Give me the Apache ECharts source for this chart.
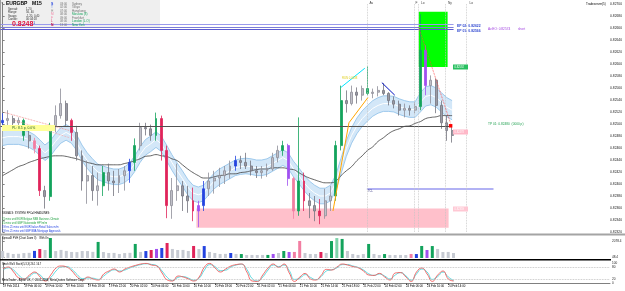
<html>
<head>
<meta charset="utf-8">
<script src="https://cdn.jsdelivr.net/npm/echarts@6.0.0/dist/echarts.min.js"></script>
</head>
<body style="margin:0;background:#fff">
<div id="chartmain" style="width:625px;height:291px"></div>
<script type="text/javascript">
// EURGBP M15 screen, read back as hourly bars (index 0 = 19 Feb 02:00)
var timeLabels = ['19 Feb 2014', '19 Feb 06:00', '19 Feb 10:00', '19 Feb 14:00', '19 Feb 18:00', '19 Feb 22:00',
    '20 Feb 02:00', '20 Feb 06:00', '20 Feb 10:00', '20 Feb 14:00', '20 Feb 18:00', '20 Feb 22:00',
    '21 Feb 02:00', '21 Feb 06:00', '21 Feb 10:00', '21 Feb 14:00', '21 Feb 18:00', '21 Feb 22:00',
    '24 Feb 02:00', '24 Feb 06:00', '24 Feb 10:00', '24 Feb 14:00'];
var priceTicks = [0.8232, 0.8234, 0.8236, 0.8238, 0.8240, 0.8242, 0.8244, 0.8246, 0.8248, 0.8250,
    0.8252, 0.8254, 0.8256, 0.8258, 0.8260, 0.8262, 0.8264, 0.8266, 0.8268, 0.8270];
var volTicks = [48.4, 2078.4];
var stochTicks = [0, 20, 80, 100];

var firstOpen = 0.82502;
var closes = [0.82506, 0.82509, 0.82502, 0.82506, 0.82481, 0.82472, 0.82459, 0.82389, 0.82379, 0.82497,
    0.82514, 0.82534, 0.82506, 0.82486, 0.82447, 0.82405, 0.82414, 0.82389, 0.82397, 0.82419,
    0.82405, 0.82402, 0.82414, 0.82422, 0.82436, 0.82464, 0.82494, 0.82492, 0.82481, 0.82509,
    0.82456, 0.82364, 0.82389, 0.82397, 0.82380, 0.82372, 0.82355, 0.82364, 0.82392, 0.82405,
    0.82410, 0.82414, 0.82422, 0.82430, 0.82439, 0.82436, 0.82430, 0.82422, 0.82419, 0.82422,
    0.82425, 0.82444, 0.82456, 0.82464, 0.82409, 0.82355, 0.82405, 0.82372, 0.82364, 0.82355,
    0.82347, 0.82372, 0.82380, 0.82464, 0.82539, 0.82534, 0.82553, 0.82548, 0.82559, 0.82551,
    0.82553, 0.82556, 0.82551, 0.82539, 0.82533, 0.82523, 0.82526, 0.82523, 0.82529, 0.82623,
    0.82564, 0.82573, 0.82531, 0.82502, 0.82489, 0.82481];
var highs = [0.82518, 0.82523, 0.82514, 0.82511, 0.82509, 0.82489, 0.82477, 0.82464, 0.82397, 0.82502,
    0.82531, 0.82559, 0.82539, 0.82509, 0.82497, 0.82456, 0.82439, 0.82430, 0.82419, 0.82430,
    0.82434, 0.82422, 0.82425, 0.82430, 0.82442, 0.82476, 0.82502, 0.82502, 0.82499, 0.82519,
    0.82514, 0.82464, 0.82410, 0.82434, 0.82405, 0.82397, 0.82394, 0.82372, 0.82405, 0.82419,
    0.82422, 0.82427, 0.82430, 0.82439, 0.82447, 0.82447, 0.82452, 0.82439, 0.82430, 0.82430,
    0.82434, 0.82452, 0.82464, 0.82472, 0.82467, 0.82412, 0.82511, 0.82419, 0.82385, 0.82380,
    0.82375, 0.82392, 0.82397, 0.82472, 0.82564, 0.82556, 0.82564, 0.82561, 0.82564, 0.82596,
    0.82559, 0.82563, 0.82568, 0.82553, 0.82546, 0.82539, 0.82534, 0.82531, 0.82536, 0.82683,
    0.82631, 0.82581, 0.82576, 0.82539, 0.82514, 0.82497];
var lows = [0.82494, 0.82497, 0.82494, 0.82492, 0.82472, 0.82459, 0.82451, 0.82380, 0.82359, 0.82372,
    0.82486, 0.82509, 0.82497, 0.82472, 0.82439, 0.82389, 0.82367, 0.82372, 0.82364, 0.82380,
    0.82389, 0.82380, 0.82385, 0.82389, 0.82402, 0.82422, 0.82456, 0.82481, 0.82472, 0.82472,
    0.82439, 0.82343, 0.82342, 0.82372, 0.82355, 0.82352, 0.82338, 0.82328, 0.82355, 0.82380,
    0.82384, 0.82395, 0.82400, 0.82409, 0.82422, 0.82425, 0.82425, 0.82414, 0.82410, 0.82409,
    0.82412, 0.82422, 0.82436, 0.82447, 0.82397, 0.82342, 0.82347, 0.82355, 0.82343, 0.82338,
    0.82333, 0.82342, 0.82355, 0.82372, 0.82456, 0.82519, 0.82531, 0.82534, 0.82539, 0.82548,
    0.82543, 0.82546, 0.82548, 0.82531, 0.82526, 0.82514, 0.82511, 0.82514, 0.82518, 0.82523,
    0.82548, 0.82534, 0.82518, 0.82492, 0.82472, 0.82469];

// long moving average (dark line)
var maLong = [0.82414, 0.82419, 0.82424, 0.82429, 0.82432, 0.82436, 0.82439, 0.82442, 0.82444, 0.82446,
    0.82447, 0.82447, 0.82446, 0.82444, 0.82442, 0.82439, 0.82436, 0.82434, 0.82432, 0.82432,
    0.82432, 0.82432, 0.82432, 0.82434, 0.82436, 0.82439, 0.82442, 0.82446, 0.82447, 0.82449,
    0.82447, 0.82446, 0.82442, 0.82439, 0.82432, 0.82425, 0.82419, 0.82414, 0.82410, 0.82410,
    0.82412, 0.82414, 0.82415, 0.82417, 0.82417, 0.82419, 0.82420, 0.82422, 0.82424, 0.82425,
    0.82425, 0.82427, 0.82427, 0.82427, 0.82425, 0.82424, 0.82419, 0.82414, 0.82410, 0.82407,
    0.82404, 0.82402, 0.82402, 0.82405, 0.82414, 0.82422, 0.82429, 0.82439, 0.82447, 0.82456,
    0.82462, 0.82471, 0.82477, 0.82484, 0.82489, 0.82492, 0.82496, 0.82497, 0.82501, 0.82504,
    0.82509, 0.82511, 0.82512, 0.82514, 0.82514, 0.82514];

// blue channel
var bandUpper = [0.82490, 0.82492, 0.82492, 0.82492, 0.82490, 0.82487, 0.82482, 0.82474, 0.82465, 0.82472,
    0.82484, 0.82494, 0.82499, 0.82494, 0.82482, 0.82465, 0.82452, 0.82442, 0.82433, 0.82430,
    0.82427, 0.82425, 0.82425, 0.82428, 0.82435, 0.82447, 0.82462, 0.82474, 0.82480, 0.82487,
    0.82480, 0.82465, 0.82449, 0.82435, 0.82422, 0.82408, 0.82398, 0.82395, 0.82398, 0.82408,
    0.82418, 0.82425, 0.82430, 0.82435, 0.82440, 0.82442, 0.82443, 0.82442, 0.82440, 0.82440,
    0.82442, 0.82447, 0.82452, 0.82457, 0.82452, 0.82438, 0.82427, 0.82415, 0.82405, 0.82398,
    0.82393, 0.82393, 0.82398, 0.82415, 0.82443, 0.82472, 0.82494, 0.82510, 0.82522, 0.82531,
    0.82539, 0.82544, 0.82547, 0.82547, 0.82546, 0.82542, 0.82539, 0.82537, 0.82537, 0.82552,
    0.82562, 0.82564, 0.82560, 0.82552, 0.82544, 0.82539];
var bandLower = [0.82464, 0.82466, 0.82466, 0.82466, 0.82464, 0.82461, 0.82456, 0.82448, 0.82439, 0.82446,
    0.82458, 0.82468, 0.82473, 0.82468, 0.82456, 0.82439, 0.82426, 0.82416, 0.82407, 0.82404,
    0.82401, 0.82399, 0.82399, 0.82402, 0.82409, 0.82421, 0.82436, 0.82448, 0.82454, 0.82461,
    0.82454, 0.82439, 0.82423, 0.82409, 0.82396, 0.82382, 0.82372, 0.82369, 0.82372, 0.82382,
    0.82392, 0.82399, 0.82404, 0.82409, 0.82414, 0.82416, 0.82417, 0.82416, 0.82414, 0.82414,
    0.82416, 0.82421, 0.82426, 0.82431, 0.82426, 0.82412, 0.82401, 0.82389, 0.82379, 0.82372,
    0.82367, 0.82367, 0.82372, 0.82389, 0.82417, 0.82446, 0.82468, 0.82484, 0.82496, 0.82505,
    0.82513, 0.82518, 0.82521, 0.82521, 0.82520, 0.82516, 0.82513, 0.82511, 0.82511, 0.82520,
    0.82530, 0.82532, 0.82528, 0.82520, 0.82512, 0.82507];

var volumes = [870, 640, 500, 520, 610, 640, 880, 1110, 990, 2480,
    860, 1000, 880, 750, 730, 870, 860, 760, 1990, 740,
    620, 630, 500, 610, 640, 1740, 750, 860, 990, 1120,
    1240, 1860, 1120, 990, 1000, 870, 1490, 1110, 1480, 750,
    620, 500, 510, 620, 500, 490, 370, 380, 370, 380,
    380, 500, 620, 870, 740, 750, 2110, 620, 500, 490,
    740, 620, 2100, 2470, 2360, 870, 500, 380, 490, 1740,
    500, 370, 490, 380, 370, 380, 370, 500, 490, 1490,
    990, 1480, 1120, 740, 750, 620];

var stochMain = [70, 80, 55, 25, 20, 40, 55, 30, 10, 40, 75, 85, 80, 60, 30, 15, 30, 20, 15, 45,
    60, 70, 55, 70, 80, 88, 95, 98, 90, 85, 50, 15, 10, 35, 30, 20, 10, 30, 80, 98,
    75, 55, 70, 85, 92, 95, 55, 10, 8, 40, 75, 95, 78, 95, 50, 8, 30, 48, 20, 15,
    38, 68, 65, 80, 95, 90, 82, 76, 60, 40, 38, 48, 30, 15, 50, 52, 30, 8, 55, 75,
    45, 8, 40, 60, 20, 10];
var stochSignal = [65, 76, 65, 38, 22, 32, 50, 40, 18, 28, 60, 80, 82, 68, 42, 22, 25, 24, 18, 35,
    55, 66, 60, 65, 76, 85, 92, 96, 93, 87, 60, 28, 12, 28, 32, 24, 14, 24, 65, 92,
    82, 62, 64, 80, 90, 94, 68, 22, 10, 30, 65, 90, 82, 90, 62, 18, 24, 42, 28, 17,
    32, 60, 66, 76, 92, 92, 85, 78, 65, 46, 38, 45, 35, 20, 40, 52, 36, 14, 45, 70,
    55, 18, 32, 55, 30, 12];

// drawn objects (price levels, zones, trend lines) in bar-index / price units
var levels = { ep02: 0.82667, avgEntry: 0.82661, ep01: 0.82658, tp01: 0.82504, plLine: 0.82497, bid: 0.82481,
    faintHigh: 0.82626, faintLow: 0.82385, tcl: 0.82392 };
var sessionX = [68.88, 77.93, 78.6, 83.78, 87.74];
var pinkZone = [[36.64, 0.82359], [84.34, 0.82327]];
var greenZone = [[78.69, 0.82687], [84.15, 0.82595]];
var orangeLine = [[62.47, 0.82355], [65.49, 0.82502], [69.07, 0.82544]];
var cyanLine = [[63.98, 0.82561], [68.5, 0.82593]];
var blueLine = [[71.71, 0.82569], [74.16, 0.82548]];
var redDotted = [[78.69, 0.82661], [84.72, 0.82501]];
var leftDotted1 = [[0.44, 0.82519], [12.7, 0.82489]];
var leftDotted2 = [[2.33, 0.82506], [12.7, 0.82477]];

// colours of the painted bars (index -> colour)
var RED = '#e0245a', PINK = '#f27ea2', GREEN = '#13a35c', LGREEN = '#7fd3aa', BLUE = '#2444e0', PURPLE = '#a050f0';
var candleColors = { 0: BLUE, 4: GREEN, 6: PINK, 7: RED, 9: GREEN, 13: RED, 19: GREEN, 24: BLUE, 25: GREEN, 29: GREEN,
    30: RED, 31: RED, 36: RED, 37: PURPLE, 38: BLUE, 44: BLUE, 53: GREEN, 54: PURPLE, 55: PINK, 56: GREEN,
    57: RED, 60: RED, 63: GREEN, 64: GREEN, 69: GREEN, 79: GREEN, 80: PURPLE };
var volColors = { 6: BLUE, 7: RED, 9: GREEN, 18: GREEN, 25: GREEN, 27: BLUE, 28: RED, 29: PURPLE, 30: BLUE, 31: RED,
    36: RED, 38: BLUE, 43: BLUE, 45: GREEN, 50: GREEN, 51: PURPLE, 53: GREEN, 54: PURPLE, 55: PINK, 56: PINK,
    60: RED, 62: GREEN, 63: LGREEN, 64: GREEN, 69: GREEN, 72: GREEN, 77: PINK, 78: BLUE, 79: GREEN, 80: PURPLE, 81: GREEN };

window.onload = function () {
    var fontName = 'Liberation Sans';
    var opens = [firstOpen].concat(closes.slice(0, -1));
    var candleData = closes.map(function (c, i) {
        var item = { value: [i, opens[i], c, lows[i], highs[i]] };
        var col = candleColors[i];
        if (col) {
            item.itemStyle = { color: col, color0: col, borderColor: col, borderColor0: col };
        }
        return item;
    });
    var volData = volumes.map(function (v, i) {
        return { value: [i, v], itemStyle: { color: volColors[i] || '#c6cad2' } };
    });
    var pairs = function (arr) { return arr.map(function (v, i) { return [i, v]; }); };
    var seg = function (a, b, style) { return [{ coord: a, lineStyle: style }, { coord: b }]; };
    var labelPos = timeLabels.map(function (s, k) { return k * 4; });

    // band polygon: upper edge left->right, lower edge right->left
    var renderBand = function (params, api) {
        if (params.dataIndex !== 0) return;
        var pts = [];
        for (var i = 0; i < bandUpper.length; i++) pts.push(api.coord([i, bandUpper[i]]));
        for (var j = bandLower.length - 1; j >= 0; j--) pts.push(api.coord([j, bandLower[j]]));
        return {
            type: 'polygon', shape: { points: pts },
            style: { fill: '#d3e7f8', stroke: null }
        };
    };

    var T = function (x, y, s, fill, size, weight) {
        return {
            type: 'text', x: x, y: y, z: 100, silent: true,
            style: {
                text: s, fill: fill || '#000', fontSize: size || 3.2, fontFamily: fontName,
                fontWeight: weight || 'normal', verticalAlign: 'middle', textVerticalAlign: 'middle'
            }
        };
    };
    var R = function (x, y, w, h, fill, z) {
        return { type: 'rect', z: z == null ? 100 : z, silent: true, shape: { x: x, y: y, width: w, height: h }, style: { fill: fill } };
    };

    var graphics = [
        R(0, 0, 160, 28, '#efefef', 0),
        R(0, 0, 0.8, 283, '#8a8a8a', 100),
        R(0, 233.5, 625, 2, '#a4a4a4', 100),
        R(0, 259, 611, 1.5, '#000', 100),
        T(1, 3.5, '\u25BC', '#000', 2.6),
        T(6, 4, 'EURGBP', '#000', 5, 'bold'),
        T(32, 4, 'M15', '#000', 5, 'bold'),
        T(8, 9, 'Spread:', '#333', 2.8), T(26, 9, '1.20', '#333', 2.8),
        T(8, 12.5, 'Range:', '#333', 2.8), T(26, 12.5, '56, 40', '#333', 2.8),
        T(8, 16, 'Swaps:', '#333', 2.8), T(26, 16, '-1.20, 0.40', '#333', 2.8),
        T(8, 19.5, 'Candle:', '#333', 2.8), T(26, 19.5, '00:04:18', '#333', 2.8),
        T(12, 24.5, '0.8248', '#e0103c', 7, 'bold'),
        T(33, 23, '1', '#3050c0', 4),
        T(51, 4, 'S', BLUE, 3.4, 'bold'), T(51, 7.5, 'T', '#5070e0', 3.2), T(51, 11, 'H', '#909090', 3.2),
        T(51, 14.5, 'M', PINK, 3.2), T(51, 18, 'F', PINK, 3.2), T(51, 21.5, 'L', RED, 3.2), T(51, 25, 'N', '#c00040', 3.4, 'bold'),
        T(60, 4, '03:00', '#707070', 2.8), T(72, 4, 'Sydney', '#707070', 3),
        T(60, 7.5, '02:00', '#707070', 2.8), T(72, 7.5, 'Tokyo', '#707070', 3),
        T(60, 11, '07:00', '#707070', 2.8), T(72, 11, 'Hongkong', '#707070', 3),
        T(60, 14.5, '08:00', '#707070', 2.8), T(72, 14.5, 'Moscow (8)', GREEN, 3),
        T(60, 18, '09:00', '#707070', 2.8), T(72, 18, 'Frankfurt', '#707070', 3),
        T(60, 21.5, '08:00', '#707070', 2.8), T(72, 21.5, 'London (L.O)', GREEN, 3),
        T(60, 25, '13:00', '#707070', 2.8), T(72, 25, 'New York', GREEN, 3),
        T(586, 4, 'Tradeserver(5)', '#000', 3),
        T(369.5, 3.5, 'Av', '#404040', 3.2), T(415.5, 3.5, 'F', '#404040', 3.2), T(421, 3.5, 'Lo', '#404040', 3.2),
        T(448, 3.5, 'Ny', '#404040', 3.2), T(469.5, 3.5, 'Lo', '#404040', 3.2),
        T(457, 26, 'EP 02: 0.82622', '#3048d0', 3.4, 'bold'),
        T(457, 31.5, 'EP 01: 0.82566', '#3048d0', 3.4, 'bold'),
        T(488, 29, 'Av.EO: 0.82574', '#a040e0', 3.2), T(518, 29, 'short', '#a040e0', 3.2),
        T(488, 124, 'TP 01: 0.82480  (0000 p)', '#20a050', 3.2),
        R(2, 125, 53, 6, '#ffff99'), T(12, 128, 'PL: 8.5 p, 0.0%', '#206020', 3.4),
        R(453, 64.5, 15, 5, '#28c060'), T(454.5, 67, '0.82592', '#fff', 2.6),
        R(453, 129.5, 15, 5, '#ffb8c8'), T(454.5, 132, '0.82478', '#fff', 2.6),
        R(453, 206.5, 15, 5, '#ffc8d4'), T(454.5, 209, '0.82359', '#fff', 2.6),
        T(368, 191.5, 'TCL', '#303080', 2.6),
        T(342, 78, 'RUN 0.0038', '#e0d020', 2.8),
        T(2, 213.5, 'SIGNALS: SYSTEM: FFCal HEADLINES:', '#000', 2.6),
        T(2, 219, '21 mins until EUR Belgian NBB Business Climate', '#20a040', 2.6),
        T(2, 223, '21 mins until GBP Nationwide HPI m/m', '#20a040', 2.6),
        T(2, 227, '19 hrs 21 mins until EUR Italian Retail Sales m/m', '#2040e0', 2.6),
        T(2, 231, '19 hrs 21 mins until GBP BBA Mortgage Approvals', '#2040e0', 2.6),
        T(2, 238.5, 'SpreadX FVH (Chart Zoom 3)    With On', '#000', 2.6),
        T(2, 264.5, 'Stoch WoS Stoch(5,3,3) 26.1 16.7', '#000', 2.6),
        T(2, 280, 'MetaTrader - Alpari UK, \u00A9 2001-2014, MetaQuotes Software Corp.', '#000', 2.8)
    ];

    var hiddenX = function (g) {
        return { type: 'value', gridIndex: g, min: -0.5, max: 114.5, show: false };
    };

    option = {
        animation: false,
        textStyle: { fontFamily: fontName },
        graphic: graphics,
        grid: [
            { left: 0, right: 15, top: 4, height: 228 },
            { left: 0, right: 15, top: 237, height: 21 },
            { left: 0, right: 15, top: 263, height: 20 }
        ],
        xAxis: [hiddenX(0), hiddenX(1), {
            type: 'value', gridIndex: 2, min: -0.5, max: 114.5,
            axisLine: { show: true, lineStyle: { color: '#808080' } },
            axisTick: { show: true, customValues: labelPos, length: 2, lineStyle: { color: '#606060' } },
            axisLabel: {
                customValues: labelPos, fontSize: 2.9, color: '#000', margin: 2, align: 'left',
                formatter: function (v) { return timeLabels[Math.round(v / 4)]; }
            },
            splitLine: { show: false }
        }],
        yAxis: [{
            type: 'value', gridIndex: 0, position: 'right', min: 0.8232, max: 0.8270,
            axisLine: { show: true, lineStyle: { color: '#808080' } },
            axisTick: { show: true, customValues: priceTicks, length: 2, lineStyle: { color: '#808080' } },
            axisLabel: { customValues: priceTicks, fontSize: 3.3, color: '#202020', margin: 2,
                formatter: function (v) { return v.toFixed(5); } },
            splitLine: { show: false }
        }, {
            type: 'value', gridIndex: 1, position: 'right', min: 0, max: 2600,
            axisLine: { show: true, lineStyle: { color: '#808080' } },
            axisTick: { show: true, customValues: volTicks, length: 2 },
            axisLabel: { customValues: volTicks, fontSize: 3.1, color: '#202020', margin: 2,
                formatter: function (v) { return v.toFixed(1); } },
            splitLine: { show: false }
        }, {
            type: 'value', gridIndex: 2, position: 'right', min: 0, max: 100,
            axisLine: { show: true, lineStyle: { color: '#808080' } },
            axisTick: { show: true, customValues: stochTicks, length: 2 },
            axisLabel: { customValues: stochTicks, fontSize: 3.1, color: '#202020', margin: 2 },
            splitLine: { show: false }
        }],
        series: [{
            name: 'kcFill', type: 'custom', xAxisIndex: 0, yAxisIndex: 0, z: 1, clip: true,
            renderItem: renderBand,
            data: bandUpper.map(function (v, i) { return [i, v, bandLower[i]]; }),
            encode: { x: 0, y: [1, 2] },
            markArea: {
                silent: true,
                data: [
                    [{ coord: pinkZone[0], itemStyle: { color: '#ffc0cb' } }, { coord: pinkZone[1] }],
                    [{ coord: greenZone[0], itemStyle: { color: '#00ff00' } }, { coord: greenZone[1] }]
                ]
            }
        }, {
            name: 'kcUp', type: 'line', xAxisIndex: 0, yAxisIndex: 0, symbol: 'none', z: 1,
            data: pairs(bandUpper), lineStyle: { color: '#8cbfe9', width: 0.8 }
        }, {
            name: 'kcLow', type: 'line', xAxisIndex: 0, yAxisIndex: 0, symbol: 'none', z: 1,
            data: pairs(bandLower), lineStyle: { color: '#8cbfe9', width: 0.8 }
        }, {
            name: 'kcMid', type: 'line', xAxisIndex: 0, yAxisIndex: 0, symbol: 'none', z: 1,
            data: bandUpper.map(function (v, i) { return [i, (v + bandLower[i]) / 2]; }),
            lineStyle: { color: '#ffffff', width: 1 }
        }, {
            name: 'MA', type: 'line', xAxisIndex: 0, yAxisIndex: 0, smooth: true, symbol: 'none', z: 2,
            data: pairs(maLong), lineStyle: { color: '#3c3c3c', width: 0.8 }
        }, {
            name: 'EURGBP', type: 'candlestick', xAxisIndex: 0, yAxisIndex: 0, z: 3, barWidth: 2.4,
            data: candleData,
            itemStyle: { color: '#c0c0c8', color0: '#9c9ca6', borderColor: '#8e8e98', borderColor0: '#74747e', borderWidth: 0.8 },
            markLine: {
                silent: true, symbol: ['none', 'none'], label: { show: false },
                data: [
                    { yAxis: levels.faintHigh, lineStyle: { color: '#eeeed6', width: 1, type: 'solid' } },
                    { yAxis: levels.faintLow, lineStyle: { color: '#eeeed6', width: 1, type: 'solid' } },
                    { yAxis: levels.tp01, lineStyle: { color: '#5cc878', width: 1, type: 'solid' } },
                    seg([-0.5, levels.plLine], [84.72, levels.plLine], { color: '#505050', width: 1, type: 'solid' }),
                    seg([-0.5, levels.ep02], [85.28, levels.ep02], { color: '#9a9aec', width: 1, type: 'solid' }),
                    seg([-0.5, levels.avgEntry], [85.28, levels.avgEntry], { color: '#7c7cd8', width: 1, type: 'solid' }),
                    seg([-0.5, levels.ep01], [85.28, levels.ep01], { color: '#5a5ad0', width: 1, type: 'solid' }),
                    seg([68.88, levels.tcl], [92.83, levels.tcl], { color: '#9898f0', width: 1.5, type: 'solid' })
                ].concat(sessionX.map(function (x) {
                    return { xAxis: x, lineStyle: { color: '#c4c4c4', width: 0.8, type: 'dotted' } };
                })).concat([
                    seg(orangeLine[0], orangeLine[1], { color: '#ffa500', width: 1, type: 'solid' }),
                    seg(orangeLine[1], orangeLine[2], { color: '#ffa500', width: 1, type: 'solid' }),
                    seg(cyanLine[0], cyanLine[1], { color: '#00e5ff', width: 1, type: 'solid' }),
                    seg(blueLine[0], blueLine[1], { color: '#0010c0', width: 1, type: 'solid' }),
                    seg(redDotted[0], redDotted[1], { color: '#ff4040', width: 0.8, type: 'dotted' }),
                    seg(leftDotted1[0], leftDotted1[1], { color: '#f08080', width: 0.8, type: 'dotted' }),
                    seg(leftDotted2[0], leftDotted2[1], { color: '#f4a0a0', width: 0.8, type: 'dotted' }),
                    {
                        yAxis: levels.bid, lineStyle: { opacity: 0, width: 0 },
                        label: { show: true, position: 'end', distance: 1.5, formatter: levels.bid.toFixed(5),
                            backgroundColor: '#000', color: '#fff', fontSize: 3.3, padding: [0.8, 1.5, 0.8, 0.5] }
                    }
                ])
            },
            markPoint: {
                silent: true, symbol: 'rect', symbolSize: 3.5, label: { show: false },
                data: [{ coord: [84.72, levels.plLine], itemStyle: { color: '#ff0000' } }]
            }
        }, {
            name: 'Volume', type: 'bar', xAxisIndex: 1, yAxisIndex: 1, barWidth: 3, data: volData
        }, {
            name: 'Stoch', type: 'line', xAxisIndex: 2, yAxisIndex: 2, smooth: true, symbol: 'none', z: 3,
            data: pairs(stochMain), lineStyle: { color: '#f05a5a', width: 0.9 },
            markLine: {
                silent: true, symbol: ['none', 'none'], label: { show: false },
                data: [
                    { yAxis: 80, lineStyle: { color: '#b8b8b8', width: 0.8, type: 'dotted' } },
                    { yAxis: 20, lineStyle: { color: '#b8b8b8', width: 0.8, type: 'dotted' } }
                ]
            }
        }, {
            name: 'Signal', type: 'line', xAxisIndex: 2, yAxisIndex: 2, smooth: true, symbol: 'none', z: 2,
            data: pairs(stochSignal), lineStyle: { color: '#4fd6dc', width: 0.9 }
        }]
    };

    var myChart = echarts.init(document.getElementById('chartmain'));
    myChart.setOption(option);
};
</script>
</body>
</html>
